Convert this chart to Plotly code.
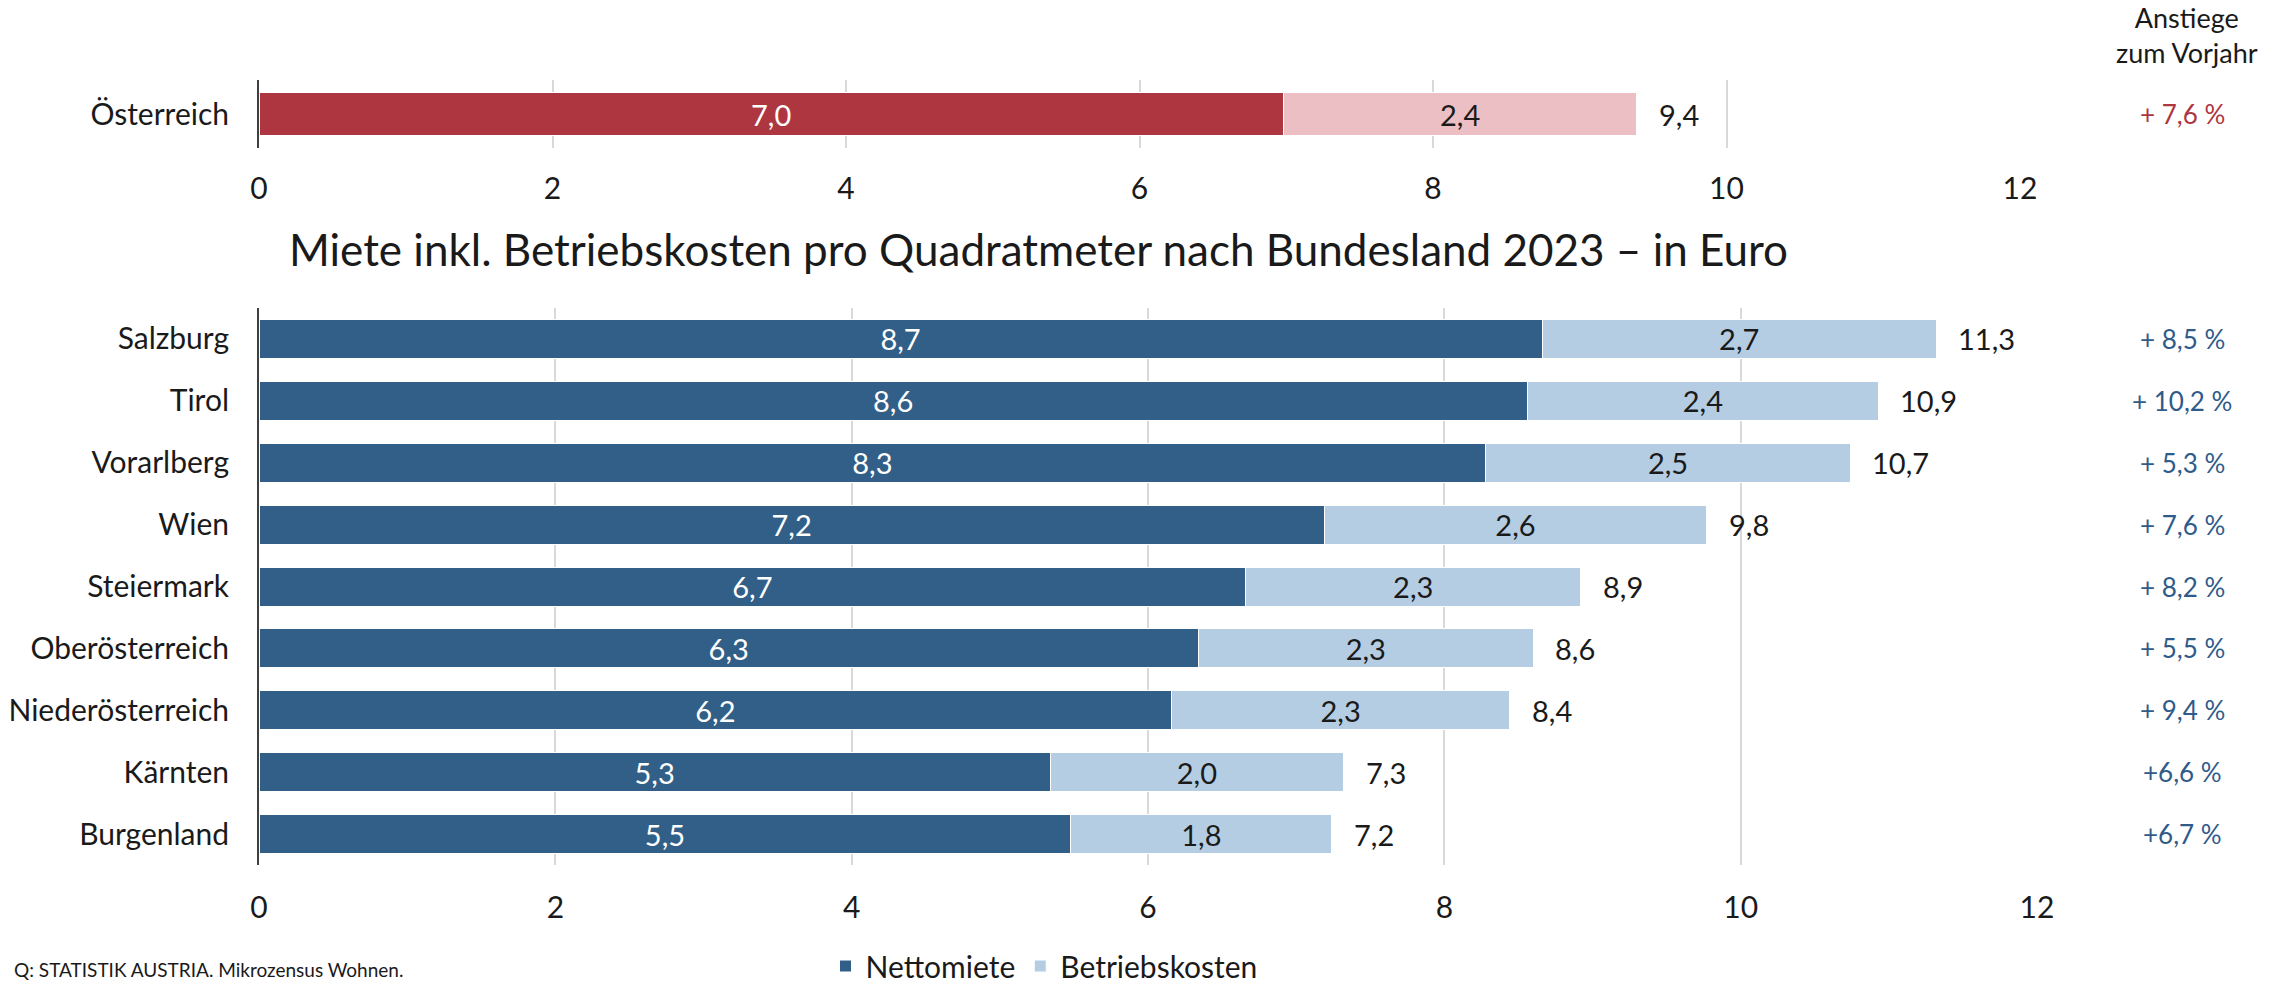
import plotly.graph_objects as go

W, H = 2269, 983

# ---------------- data ----------------
regions = ["Salzburg", "Tirol", "Vorarlberg", "Wien", "Steiermark",
           "Oberösterreich", "Niederösterreich", "Kärnten", "Burgenland"]
nettomiete = [8.66, 8.56, 8.28, 7.19, 6.66, 6.34, 6.16, 5.34, 5.48]
betriebskosten = [2.66, 2.37, 2.46, 2.58, 2.26, 2.26, 2.28, 1.98, 1.76]
anstiege = ["+ 8,5 %", "+ 10,2 %", "+ 5,3 %", "+ 7,6 %", "+ 8,2 %",
            "+ 5,5 %", "+ 9,4 %", "+6,6 %", "+6,7 %"]

at_label = ["Österreich"]
at_netto = [6.98]
at_bk = [2.41]
at_anstieg = "+ 7,6 %"

x_ticks = [0, 2, 4, 6, 8, 10, 12]

title_text = "Miete inkl. Betriebskosten pro Quadratmeter nach Bundesland 2023 – in Euro"
source_text = "Q: STATISTIK AUSTRIA. Mikrozensus Wohnen."
anstieg_head = "Anstiege<br>zum Vorjahr"

# ---------------- style ----------------
FONT = "Lato"
C_NET = "#315f88"
C_BK = "#b4cde3"
C_AT_NET = "#ad3641"
C_AT_BK = "#ecbfc4"
C_PCT = "#2f5b8a"
GRID = "#d9d9d9"
FS = 30
FS_VAL = 29


def fmt(v):
    return f"{v:.1f}".replace(".", ",")


def px_x(p):
    return p / W


def px_y(p):
    return 1 - p / H


fig = go.Figure()

# bottom chart
fig.add_trace(go.Bar(
    y=regions, x=nettomiete, orientation="h", name="Nettomiete",
    marker=dict(color=C_NET, line=dict(color="white", width=1)),
    text=[fmt(v) for v in nettomiete], textposition="inside",
    insidetextanchor="middle", textangle=0, constraintext="none",
    textfont=dict(color="white", size=FS_VAL, family=FONT),
    xaxis="x", yaxis="y", hoverinfo="skip"))
fig.add_trace(go.Bar(
    y=regions, x=betriebskosten, orientation="h", name="Betriebskosten",
    marker=dict(color=C_BK, line=dict(color="white", width=1)),
    text=[fmt(v) for v in betriebskosten], textposition="inside",
    insidetextanchor="middle", textangle=0, constraintext="none",
    textfont=dict(color="#1a1a1a", size=FS_VAL, family=FONT),
    xaxis="x", yaxis="y", hoverinfo="skip"))

# top chart
fig.add_trace(go.Bar(
    y=at_label, x=at_netto, orientation="h", showlegend=False,
    marker=dict(color=C_AT_NET, line=dict(color="white", width=1)),
    text=[fmt(v) for v in at_netto], textposition="inside",
    insidetextanchor="middle", textangle=0, constraintext="none",
    textfont=dict(color="white", size=FS_VAL, family=FONT),
    xaxis="x2", yaxis="y2", hoverinfo="skip"))
fig.add_trace(go.Bar(
    y=at_label, x=at_bk, orientation="h", showlegend=False,
    marker=dict(color=C_AT_BK, line=dict(color="white", width=1)),
    text=[fmt(v) for v in at_bk], textposition="inside",
    insidetextanchor="middle", textangle=0, constraintext="none",
    textfont=dict(color="#1a1a1a", size=FS_VAL, family=FONT),
    xaxis="x2", yaxis="y2", hoverinfo="skip"))

annotations = []
# totals
for r, n, b in zip(regions, nettomiete, betriebskosten):
    annotations.append(dict(x=n + b, y=r, xref="x", yref="y", text=fmt(n + b),
                            showarrow=False, xanchor="left", xshift=20,
                            font=dict(size=FS_VAL, color="#1a1a1a", family=FONT)))
for r, n, b in zip(at_label, at_netto, at_bk):
    annotations.append(dict(x=n + b, y=r, xref="x2", yref="y2", text=fmt(n + b),
                            showarrow=False, xanchor="left", xshift=20,
                            font=dict(size=FS_VAL, color="#1a1a1a", family=FONT)))
# percentages
for r, p in zip(regions, anstiege):
    annotations.append(dict(x=px_x(2182), y=r, xref="paper", yref="y", text=p,
                            showarrow=False, xanchor="center",
                            font=dict(size=26, color=C_PCT, family=FONT)))
annotations.append(dict(x=px_x(2182), y=at_label[0], xref="paper", yref="y2",
                        text=at_anstieg, showarrow=False, xanchor="center",
                        font=dict(size=26, color=C_AT_NET, family=FONT)))
annotations.append(dict(x=px_x(2187), y=px_y(35), xref="paper", yref="paper",
                        text=anstieg_head, showarrow=False, xanchor="center",
                        yanchor="middle",
                        font=dict(size=27, color="#1a1a1a", family=FONT)))
# title
annotations.append(dict(x=px_x(1038), y=px_y(249), xref="paper", yref="paper",
                        text=title_text, showarrow=False, xanchor="center",
                        yanchor="middle",
                        font=dict(size=44, color="#1a1a1a", family=FONT)))
# source
annotations.append(dict(x=px_x(12), y=px_y(969), xref="paper", yref="paper",
                        text=source_text, showarrow=False, xanchor="left",
                        yanchor="middle",
                        font=dict(size=19, color="#1a1a1a", family=FONT)))

xaxis_common = dict(range=[0, 12], tickvals=x_ticks,
                    ticktext=[str(t) for t in x_ticks],
                    showgrid=True, gridcolor=GRID, gridwidth=2,
                    zeroline=False, showline=False,
                    ticks="outside", tickcolor="rgba(0,0,0,0)",
                    tickfont=dict(size=FS, color="#1a1a1a", family=FONT),
                    automargin=False, fixedrange=True)
yaxis_common = dict(showgrid=False, zeroline=False, showline=True,
                    linecolor="#404040", linewidth=2,
                    ticks="outside", ticklen=22, tickcolor="rgba(0,0,0,0)",
                    tickfont=dict(size=FS, color="#1a1a1a", family=FONT),
                    automargin=False, fixedrange=True)

fig.update_layout(
    width=W, height=H,
    margin=dict(l=0, r=0, t=0, b=0, autoexpand=False),
    paper_bgcolor="white", plot_bgcolor="white",
    font=dict(family=FONT, size=FS, color="#1a1a1a"),
    barmode="stack", bargap=0.37,
    xaxis=dict(domain=[px_x(259), px_x(2037)], anchor="y", ticklen=16,
               **xaxis_common),
    yaxis=dict(domain=[px_y(865), px_y(308)], anchor="x",
               categoryorder="array", categoryarray=regions,
               autorange="reversed", **yaxis_common),
    xaxis2=dict(domain=[px_x(259), px_x(2020)], anchor="y2", ticklen=14,
                **xaxis_common),
    yaxis2=dict(domain=[px_y(148), px_y(80)], anchor="x2", **yaxis_common),
    legend=dict(orientation="h", x=px_x(1044), xanchor="center",
                y=px_y(966), yanchor="middle", traceorder="normal",
                font=dict(size=FS, family=FONT, color="#1a1a1a"),
                itemwidth=30, tracegroupgap=0),
    annotations=annotations,
    showlegend=True,
)

fig.write_html(
    "out.html",
    config={"displayModeBar": False},
    post_script="document.body.style.margin='0px';"
                "document.documentElement.style.overflow='hidden';",
)
